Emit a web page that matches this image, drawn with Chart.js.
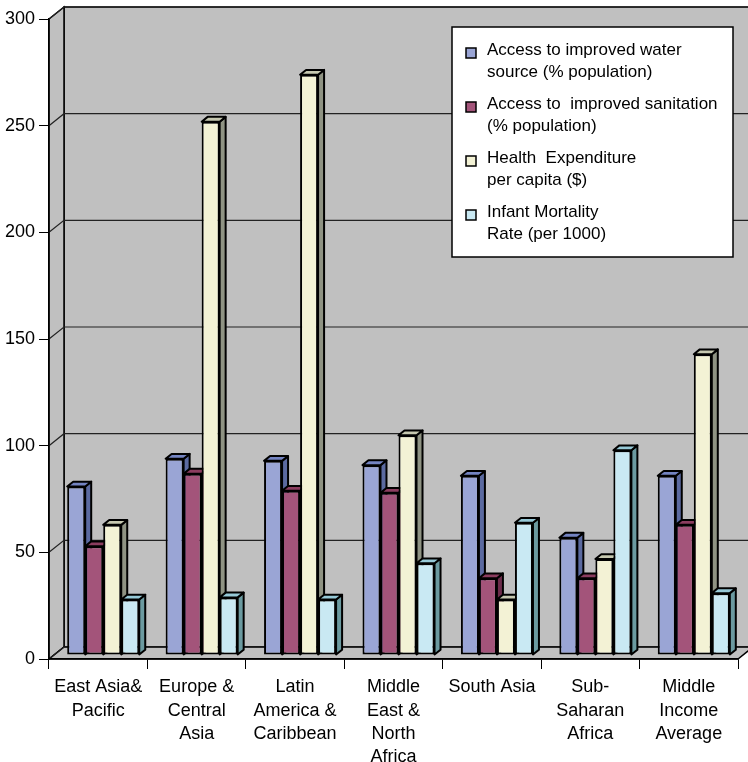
<!DOCTYPE html>
<html>
<head>
<meta charset="utf-8">
<script src="https://cdn.jsdelivr.net/npm/chart.js@4/dist/chart.umd.min.js"></script>
<style>
  html, body { margin: 0; padding: 0; background: #fff; }
  #wrap { width: 748px; height: 762px; }
</style>
</head>
<body>
<div id="wrap"><canvas id="c" width="748" height="762"></canvas></div>
<script>
// Regions (multi-line labels as arrays)
const categories = [
  ["East Asia&", "Pacific"],
  ["Europe &", "Central", "Asia"],
  ["Latin", "America &", "Caribbean"],
  ["Middle", "East &", "North", "Africa"],
  ["South Asia"],
  ["Sub-", "Saharan", "Africa"],
  ["Middle", "Income", "Average"]
];

// Series names, one entry per legend line
const seriesNames = [
  ["Access to improved water", "source (% population)"],
  ["Access to  improved sanitation", "(% population)"],
  ["Health  Expenditure", "per capita ($)"],
  ["Infant Mortality", "Rate (per 1000)"]
];

// Series values
const waterAccess      = [79, 92, 91, 89, 84, 55, 84];
const sanitationAccess = [51, 85, 77, 76, 36, 36, 61];
const healthSpending   = [61, 250, 272, 103, 26, 45, 141];
const infantMortality  = [26, 27, 26, 43, 62, 96, 29];

// Value axis ticks
const yTicks = [0, 50, 100, 150, 200, 250, 300];

// Face colours: front, right side, top
const frontColors = ['#9AA5D5', '#A3547A', '#F3F2D5', '#C9E9F3'];
const sideColors  = ['#5B6AA0', '#6C2C4A', '#8F9383', '#6B9AA0'];
const topColors   = ['#7484C2', '#8B3D5F', '#C6C8B0', '#96C9D7'];

// Projection offsets for the pseudo-3D look
const WALL_DEPTH = { dx: 15, dy: -12 };
const BAR_SHIFT  = { dx: 5,  dy: -4 };
const BAR_DEPTH  = { dx: 6,  dy: -4.8 };

const FONT = '"Liberation Sans", Arial, Helvetica, sans-serif';

function poly(ctx, pts) {
  ctx.beginPath();
  ctx.moveTo(pts[0][0], pts[0][1]);
  for (let i = 1; i < pts.length; i++) ctx.lineTo(pts[i][0], pts[i][1]);
  ctx.closePath();
  ctx.fill();
  ctx.stroke();
}

// Back wall, side wall, floor and gridlines
const wallsPlugin = {
  id: 'walls',
  beforeDraw(chart) {
    const ctx = chart.ctx;
    const a = chart.chartArea;
    const { dx, dy } = WALL_DEPTH;
    const ys = chart.scales.y;
    ctx.save();
    ctx.fillStyle = '#C0C0C0';
    ctx.strokeStyle = '#000';
    ctx.lineWidth = 1.5;
    ctx.lineJoin = 'miter';
    // back wall
    poly(ctx, [[a.left + dx, a.top + dy], [a.right + dx, a.top + dy],
               [a.right + dx, a.bottom + dy], [a.left + dx, a.bottom + dy]]);
    // left wall
    poly(ctx, [[a.left, a.top], [a.left + dx, a.top + dy],
               [a.left + dx, a.bottom + dy], [a.left, a.bottom]]);
    // floor
    poly(ctx, [[a.left, a.bottom], [a.left + dx, a.bottom + dy],
               [a.right + dx, a.bottom + dy], [a.right, a.bottom]]);
    // gridlines across left wall and back wall
    ctx.strokeStyle = '#222';
    ctx.lineWidth = 1.2;
    yTicks.forEach(v => {
      const y = ys.getPixelForValue(v);
      ctx.beginPath();
      ctx.moveTo(a.left, y);
      ctx.lineTo(a.left + dx, y + dy);
      ctx.lineTo(a.right + dx, y + dy);
      ctx.stroke();
    });
    ctx.restore();
  }
};

// Side and top faces of each column; front faces are drawn by the bar controller
const boxPlugin = {
  id: 'boxes',
  beforeDatasetsDraw(chart) {
    const ctx = chart.ctx;
    ctx.save();
    ctx.translate(BAR_SHIFT.dx, BAR_SHIFT.dy);
    const { dx, dy } = BAR_DEPTH;
    ctx.strokeStyle = '#000';
    ctx.lineWidth = 2;
    ctx.lineJoin = 'round';
    const n = chart.data.labels.length;
    for (let i = 0; i < n; i++) {
      chart.data.datasets.forEach((ds, d) => {
        const el = chart.getDatasetMeta(d).data[i];
        const { x, y, base, width } = el.getProps(['x', 'y', 'base', 'width'], true);
        const l = x - width / 2, r = x + width / 2;
        ctx.fillStyle = sideColors[d];
        poly(ctx, [[r, y], [r + dx, y + dy], [r + dx, base + dy], [r, base]]);
        ctx.fillStyle = topColors[d];
        poly(ctx, [[l, y], [r, y], [r + dx, y + dy], [l + dx, y + dy]]);
      });
    }
  },
  afterDatasetsDraw(chart) {
    chart.ctx.restore();
  }
};

// Boxed legend inside the plot
const legendPlugin = {
  id: 'boxLegend',
  afterDraw(chart) {
    const ctx = chart.ctx;
    const bx = 452, by = 27, bw = 281, bh = 230;
    ctx.save();
    ctx.fillStyle = '#fff';
    ctx.strokeStyle = '#000';
    ctx.lineWidth = 1.5;
    ctx.fillRect(bx, by, bw, bh);
    ctx.strokeRect(bx, by, bw, bh);
    ctx.font = '17px ' + FONT;
    ctx.textBaseline = 'alphabetic';
    ctx.textAlign = 'left';
    seriesNames.forEach((lines, k) => {
      const base = 55 + k * 54;
      ctx.fillStyle = frontColors[k];
      ctx.fillRect(466, base - 7, 10, 10);
      ctx.lineWidth = 1.5;
      ctx.strokeRect(466, base - 7, 10, 10);
      ctx.fillStyle = '#000';
      lines.forEach((t, j) => ctx.fillText(t, 487, base + j * 22));
    });
    ctx.restore();
  }
};

const seriesValues = [waterAccess, sanitationAccess, healthSpending, infantMortality];

new Chart(document.getElementById('c'), {
  type: 'bar',
  data: {
    labels: categories,
    datasets: seriesValues.map((vals, k) => ({
      label: seriesNames[k].join(' '),
      data: vals,
      backgroundColor: frontColors[k],
      borderColor: '#000',
      borderWidth: 2,
      borderSkipped: false,
      categoryPercentage: 0.732,
      barPercentage: 1.0,
      clip: false
    }))
  },
  options: {
    responsive: false,
    devicePixelRatio: 1,
    animation: false,
    layout: { padding: { top: 19, right: 10, left: 0, bottom: 0 } },
    plugins: {
      legend: { display: false },
      tooltip: { enabled: false }
    },
    scales: {
      x: {
        type: 'category',
        offset: true,
        grid: { offset: true, drawOnChartArea: false, tickLength: 10, color: '#000', lineWidth: 1 },
        border: { display: true, color: '#000', width: 1.5 },
        ticks: {
          color: '#000',
          font: { family: FONT, size: 18, lineHeight: 1.28 },
          maxRotation: 0,
          autoSkip: false,
          padding: 7
        },
        afterFit(scale) { scale.height = 103; }
      },
      y: {
        min: 0,
        max: 300,
        afterBuildTicks(scale) { scale.ticks = yTicks.map(v => ({ value: v })); },
        grid: { drawOnChartArea: false, tickLength: 10, color: '#000', lineWidth: 1 },
        border: { display: true, color: '#000', width: 1.5 },
        ticks: {
          color: '#000',
          font: { family: FONT, size: 18 },
          padding: 4
        },
        afterFit(scale) { scale.width = 49; }
      }
    }
  },
  plugins: [wallsPlugin, boxPlugin, legendPlugin]
});
</script>
</body>
</html>
